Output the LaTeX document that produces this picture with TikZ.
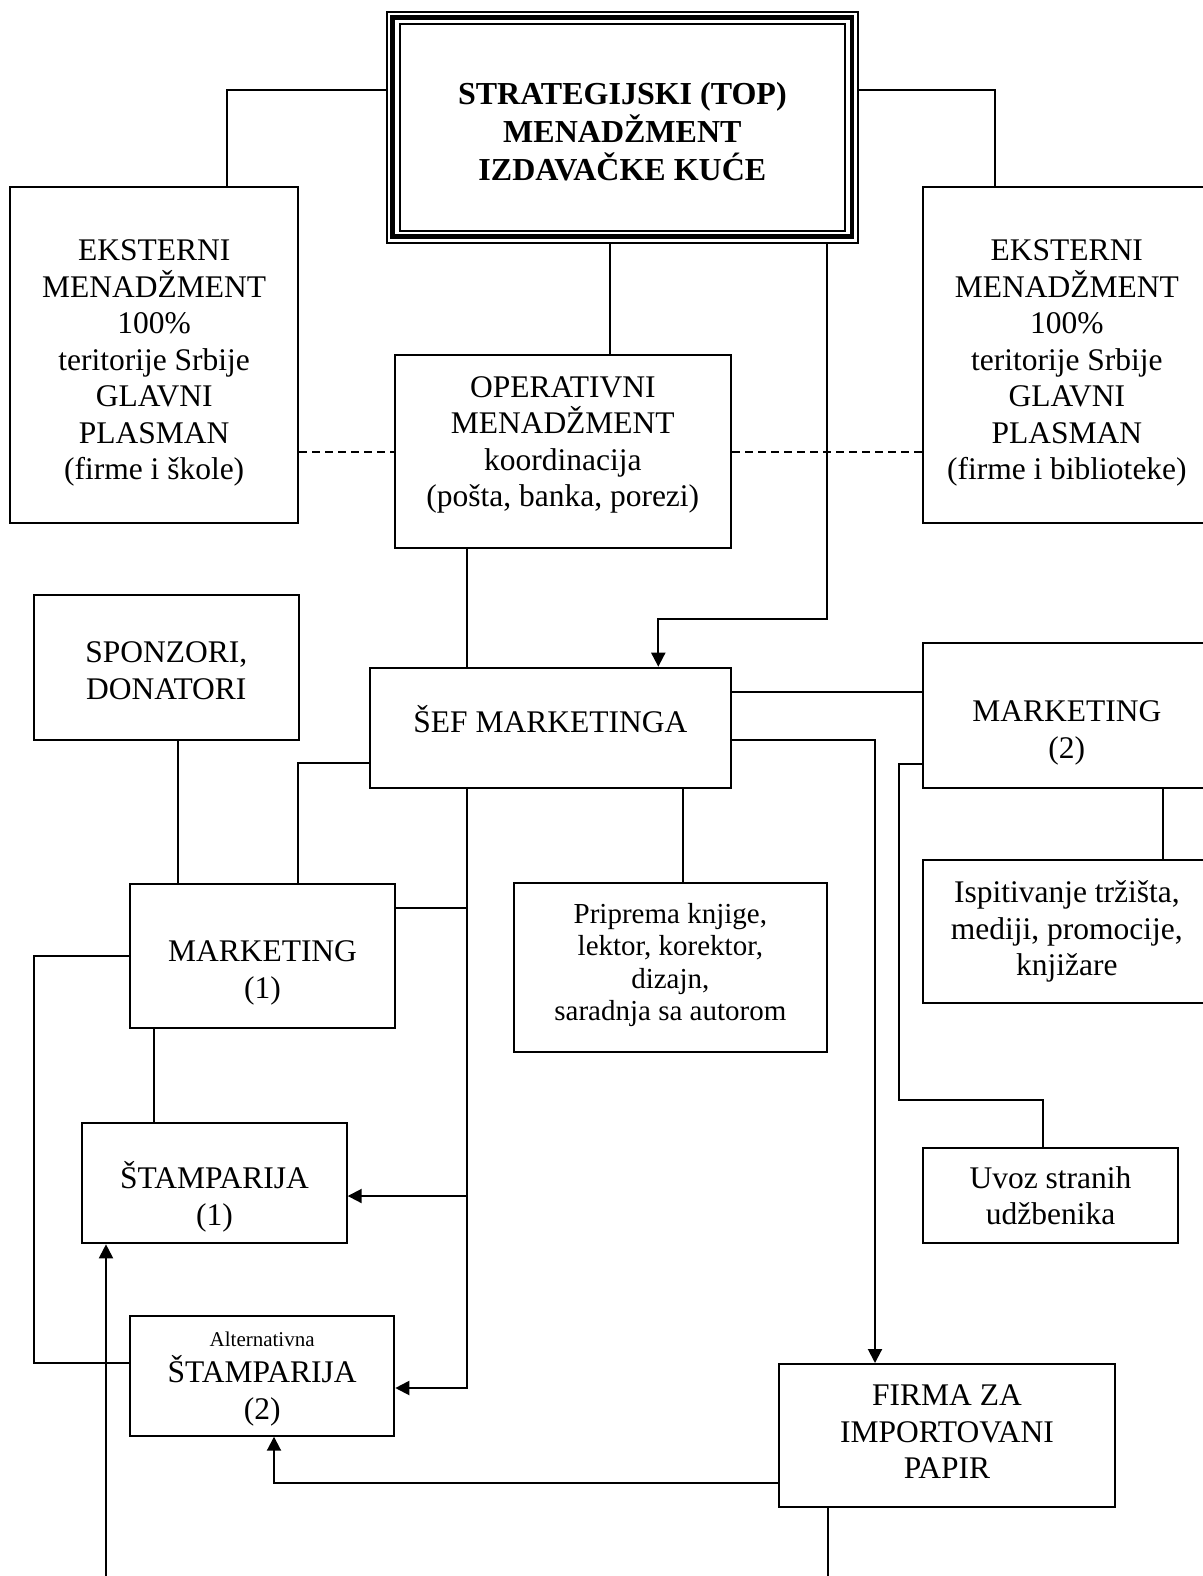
\documentclass[tikz,border=0pt]{standalone}
\usepackage{fontspec}
\setmainfont{Liberation Serif}
\usetikzlibrary{arrows.meta}
\newcommand\mainfs{\fontsize{31.5}{36.5}\selectfont}
\newcommand\smallfs{\fontsize{29}{32.5}\selectfont}
\newcommand\topfs{\fontsize{32}{38}\selectfont\bfseries}
\begin{document}
\begin{tikzpicture}[x=1pt,y=-1pt,
  bx/.style={draw, line width=2pt, inner sep=0pt, align=center, font=\mainfs},
  txt/.style={inner sep=0pt, align=center, font=\mainfs},
  ln/.style={line width=2pt},
  dl/.style={line width=2pt, dash pattern=on 8pt off 5pt},
  arr/.style={line width=2pt, -{Triangle[length=14pt,width=14pt]}}]
\useasboundingbox (0,0) rectangle (1202,1576);
\fill[white] (0,0) rectangle (1202,1576);

% top box
\node[bx, minimum width=471.3pt, minimum height=231pt] (top) at (622.35,127.2) {};
\node[txt, font=\topfs] (topt) at (622.35,132) {STRATEGIJSKI (TOP)\\MENADŽMENT\\IZDAVAČKE KUĆE};
\draw[line width=4.5pt] ([shift={(7,7)}]top.north west) rectangle ([shift={(-7,-7)}]top.south east);
\draw[line width=2pt] ([shift={(14.5,13.5)}]top.north west) rectangle ([shift={(-14.5,-13)}]top.south east);

% boxes
\node[bx, minimum width=288.3pt, minimum height=335.4pt] (lb) at (154.15,355) {};
\node[txt] (lbt) at (154.15,363)
  {EKSTERNI\\MENADŽMENT\\100\%\\teritorije Srbije\\GLAVNI\\PLASMAN\\(firme i škole)};
\node[bx, minimum width=288.3pt, minimum height=335.4pt] (rb) at (1066.85,355) {};
\node[txt] (rbt) at (1066.85,363)
  {EKSTERNI\\MENADŽMENT\\100\%\\teritorije Srbije\\GLAVNI\\PLASMAN\\(firme i biblioteke)};
\node[bx, minimum width=336.5pt, minimum height=193.3pt] (op) at (562.75,451.65) {};
\node[txt] (opt) at (562.75,445)
  {OPERATIVNI\\MENADŽMENT\\koordinacija\\(pošta, banka, porezi)};
\node[bx, minimum width=264.5pt, minimum height=145pt] (sp) at (166.25,667.5) {};
\node[txt] (spt) at (166.25,670.5) {SPONZORI,\\DONATORI};
\node[bx, minimum width=360.7pt, minimum height=120pt] (sef) at (550.35,727.7) {};
\node[txt] (seft) at (550.35,719.5) {ŠEF MARKETINGA};
\node[bx, minimum width=288.3pt, minimum height=144.4pt] (m2) at (1066.85,715.5) {};
\node[txt] (m2t) at (1066.85,733) {MARKETING\\(2)};
\node[bx, minimum width=288.3pt, minimum height=143.3pt] (isp) at (1066.85,931.65)
  {Ispitivanje tržišta,\\mediji, promocije,\\knjižare};
\node[bx, minimum width=265pt, minimum height=144.2pt] (m1) at (262.5,955.6) {};
\node[txt] (m1t) at (262.5,973) {MARKETING\\(1)};
\node[bx, minimum width=312.7pt, minimum height=168.4pt] (prip) at (670.35,967.5) {};
\node[txt, font=\smallfs] (pript) at (670.35,965)
  {Priprema knjige,\\lektor, korektor,\\dizajn,\\saradnja sa autorom};
\node[bx, minimum width=264.4pt, minimum height=120pt] (st1) at (214.5,1183.3) {};
\node[txt] (st1t) at (214.5,1197) {ŠTAMPARIJA\\(1)};
\node[bx, minimum width=255.6pt, minimum height=95pt] (uvoz) at (1050.5,1195.8)
  {Uvoz stranih\\udžbenika};
\node[bx, minimum width=264.3pt, minimum height=120pt] (st2) at (262.15,1375.7) {};
\node[txt] (st2t) at (262.15,1379)
  {{\fontsize{21}{24}\selectfont Alternativna}\\ŠTAMPARIJA\\(2)};
\node[bx, minimum width=336pt, minimum height=142.7pt] (firma) at (947,1435.35) {};
\node[txt] (firmat) at (947,1432)
  {FIRMA ZA\\IMPORTOVANI\\PAPIR};

% helper coordinates
\coordinate (b1) at (226.7,90);
\coordinate (b2) at (995,90);
\coordinate (b3) at (610.4,300);
\coordinate (b4) at (826.7,619.3);
\coordinate (b5) at (658.3,619.3);
\coordinate (v) at (466.7,600);
\coordinate (h1) at (800,691.7);
\coordinate (b6) at (875,740);
\coordinate (b7) at (899,764);
\coordinate (b8) at (1042.7,1100);
\coordinate (b9) at (298.3,763.3);
\coordinate (b10) at (466.7,1388);
\coordinate (b11) at (466.7,1196);
\coordinate (b12) at (466.7,907.7);
\coordinate (b13) at (34,1363.3);
\coordinate (b14) at (274,1483.3);
\coordinate (sx) at (178.3,800);
\coordinate (px) at (682.7,850);
\coordinate (mx) at (1162.7,820);
\coordinate (sm) at (154.3,1080);
\coordinate (e1) at (106,1590);
\coordinate (e2) at (827.7,1590);

% connectors
\draw[ln] (top.west |- b1) -- (b1) -- (lb.north -| b1);
\draw[ln] (top.east |- b2) -- (b2) -- (rb.north -| b2);
\draw[ln] (top.south -| b3) -- (op.north -| b3);
\draw[arr] (top.south -| b4) -- (b4) -- (b5) -- (sef.north -| b5);
\draw[dl] (lb.east |- op.west) -- (op.west);
\draw[dl] (op.east) -- (rb.west |- op.east);
\draw[ln] (op.south -| v) -- (sef.north -| v);
\draw[ln] (sef.east |- h1) -- (m2.west |- h1);
\draw[arr] (sef.east |- b6) -- (b6) -- (firma.north -| b6);
\draw[ln] (m2.west |- b7) -- (b7) |- (b8) -- (uvoz.north -| b8);
\draw[ln] (m2.south -| mx) -- (isp.north -| mx);
\draw[ln] (sp.south -| sx) -- (m1.north -| sx);
\draw[ln] (sef.west |- b9) -- (b9) -- (m1.north -| b9);
\draw[arr] (sef.south -| b10) -- (b10) -- (st2.east |- b10);
\draw[arr] (b11) -- (st1.east |- b11);
\draw[ln] (m1.east |- b12) -- (b12);
\draw[ln] (sef.south -| px) -- (prip.north -| px);
\draw[ln] (m1.west) -- (b13 |- m1.west) -- (b13) -- (st2.west |- b13);
\draw[ln] (m1.south -| sm) -- (st1.north -| sm);
\draw[arr] (e1) -- (st1.south -| e1);
\draw[arr] (firma.west |- b14) -- (b14) -- (st2.south -| b14);
\draw[ln] (firma.south -| e2) -- (e2);
\end{tikzpicture}
\end{document}
